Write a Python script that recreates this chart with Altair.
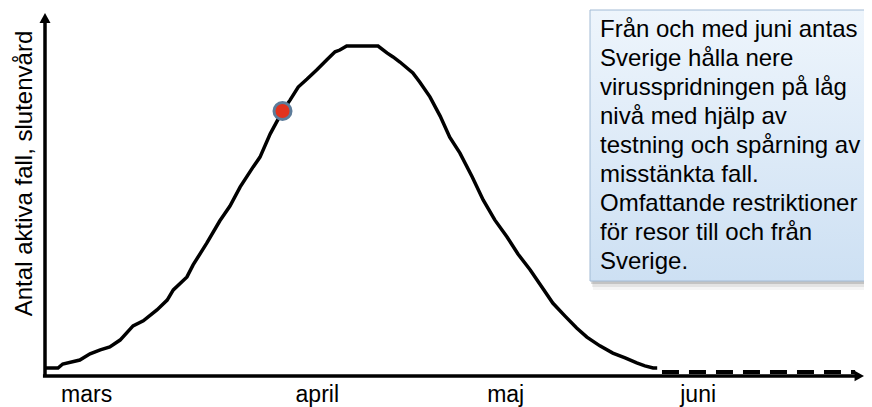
import altair as alt
import pandas as pd

# ---- data ----
curve_x = [0, 1.9, 2.6, 5.1, 6.6, 8.1, 9.5, 11.0, 12.9, 14.4, 16.4, 17.9, 18.8, 20.8,
           21.7, 23.7, 25.6, 27.1, 28.6, 30.5, 31.5, 33.0, 34.4, 34.8, 35.9, 37.1,
           38.4, 39.8, 41.3, 42.5, 43.2, 44.2, 48.8, 50.1, 51.0, 52.0, 53.9, 54.9,
           56.4, 57.9, 59.3, 60.8, 62.6, 64.2, 65.9, 67.7, 69.3, 71.1, 72.8, 74.4,
           76.2, 77.9, 79.4, 81.3, 83.2, 85.0, 86.7, 87.9, 89.1, 89.7]
curve_y = [2.2, 2.2, 3.3, 4.4, 6.1, 7.2, 8.0, 9.9, 13.8, 15.2, 18.2, 20.9, 23.7, 27.3,
           30.6, 36.6, 42.7, 46.8, 52.1, 57.6, 60.3, 66.7, 71.6, 73.0, 76.0, 79.6,
           81.8, 84.3, 87.1, 89.3, 89.8, 90.9, 90.9, 89.0, 87.9, 86.5, 83.5, 81.0,
           76.9, 71.6, 65.8, 61.4, 54.8, 48.5, 43.0, 38.3, 33.6, 29.2, 24.5, 20.1,
           16.5, 13.2, 10.7, 8.3, 6.3, 5.0, 3.6, 2.8, 2.2, 2.2]
tail_x = [90.4, 118.7]
tail_y = [1.1, 1.1]
dot_x = [34.8]
dot_y = [73.0]
month_labels = ["mars", "april", "maj", "juni"]
month_pos = [6.1, 39.9, 67.5, 95.7]
y_title = "Antal aktiva fall, slutenvård"
box_lines = [
    "Från och med juni antas",
    "Sverige hålla nere",
    "virusspridningen på låg",
    "nivå med hjälp av",
    "testning och spårning av",
    "misstänkta fall.",
    "Omfattande restriktioner",
    "för resor till och från",
    "Sverige.",
]
X_MAX = 120
Y_MAX = 100

FONT = "Liberation Sans"
xs = alt.Scale(domain=[0, X_MAX], nice=False, zero=False)
ys = alt.Scale(domain=[0, Y_MAX], nice=False, zero=False)

curve_df = pd.DataFrame({"t": curve_x, "v": curve_y, "o": list(range(len(curve_x)))})
tail_df = pd.DataFrame({"t": tail_x, "v": tail_y})
dot_df = pd.DataFrame({"t": dot_x, "v": dot_y})
month_df = pd.DataFrame({"pos": month_pos, "label": month_labels})
xaxis_df = pd.DataFrame({"a": [-0.3], "b": [X_MAX - 0.8], "y": [0]})
yaxis_df = pd.DataFrame({"x": [0], "a": [0], "b": [Y_MAX - 2]})
uparrow_df = pd.DataFrame({"x": [0], "y": [Y_MAX]})
rightarrow_df = pd.DataFrame({"x": [X_MAX], "y": [0]})
one = alt.Data(values=[{}])

X = lambda f: alt.X(f, type="quantitative", scale=xs, axis=None)
Y = lambda f: alt.Y(f, type="quantitative", scale=ys, axis=None)

# text box with shadow
shadows = []
for off, op in [(9, 0.04), (6, 0.07), (3, 0.14)]:
    shadows.append(
        alt.Chart(one).mark_rect(color="#000000", opacity=op).encode(
            x=alt.value(545 + off / 3), x2=alt.value(840),
            y=alt.value(-3 + off / 2), y2=alt.value(268 + off),
        )
    )
box = alt.Chart(one).mark_rect(
    fill=alt.Gradient(
        gradient="linear",
        stops=[alt.GradientStop(color="#eef5fc", offset=0),
               alt.GradientStop(color="#cde0f3", offset=1)],
        x1=0, x2=0, y1=0, y2=1,
    ),
    stroke="#a2bbd5", strokeWidth=1,
).encode(x=alt.value(545), x2=alt.value(840), y=alt.value(-3), y2=alt.value(268))
box_text = alt.Chart(one).mark_text(
    align="left", baseline="alphabetic", fontSize=24, lineHeight=29,
    font=FONT, color="#000000", lineBreak="\n",
).encode(x=alt.value(555), y=alt.value(24), text=alt.value("\n".join(box_lines)))

# axes
x_axis = alt.Chart(xaxis_df).mark_rule(color="#000000", strokeWidth=3.5).encode(
    x=X("a"), x2="b", y=Y("y"))
y_axis = alt.Chart(yaxis_df).mark_rule(color="#000000", strokeWidth=3.5).encode(
    x=X("x"), y=Y("a"), y2="b")
up_arrow = alt.Chart(uparrow_df).mark_point(
    shape="M0,0L1,1.8L-1,1.8Z", filled=True, size=121, color="#000000",
    opacity=1, strokeWidth=0,
).encode(x=X("x"), y=Y("y"))
right_arrow = alt.Chart(rightarrow_df).mark_point(
    shape="M0,0L-1.8,-1L-1.8,1Z", filled=True, size=110, color="#000000",
    opacity=1, strokeWidth=0,
).encode(x=X("x"), y=Y("y"))

# data marks
curve = alt.Chart(curve_df).mark_line(color="#000000", strokeWidth=3.5).encode(
    x=X("t"), y=Y("v"), order="o:Q")
tail = alt.Chart(tail_df).mark_line(color="#000000", strokeWidth=4, strokeDash=[17, 10]).encode(
    x=X("t"), y=Y("v"))
dot = alt.Chart(dot_df).mark_point(
    filled=True, size=290, fill="#e2321d", stroke="#5d7c9a", strokeWidth=3, opacity=1,
).encode(x=X("t"), y=Y("v"))

months = alt.Chart(month_df).mark_text(
    align="center", baseline="alphabetic", fontSize=23, font=FONT, color="#000000",
).encode(x=X("pos"), y=alt.value(389), text="label:N")
ytitle = alt.Chart(one).mark_text(
    align="center", baseline="alphabetic", fontSize=24, font=FONT, color="#000000", angle=270,
).encode(x=alt.value(-13), y=alt.value(160.5), text=alt.value(y_title))

chart = alt.layer(
    *shadows, box, box_text, curve, tail, x_axis, y_axis, up_arrow, right_arrow,
    dot, months, ytitle,
).properties(
    width=819, height=363,
    padding={"left": 37, "top": 5, "right": 0, "bottom": 31},
    autosize=alt.AutoSizeParams(type="none"),
    background="#ffffff",
).configure_view(stroke=None)

chart.save("out.html", embed_options={"renderer": "svg", "actions": False})
